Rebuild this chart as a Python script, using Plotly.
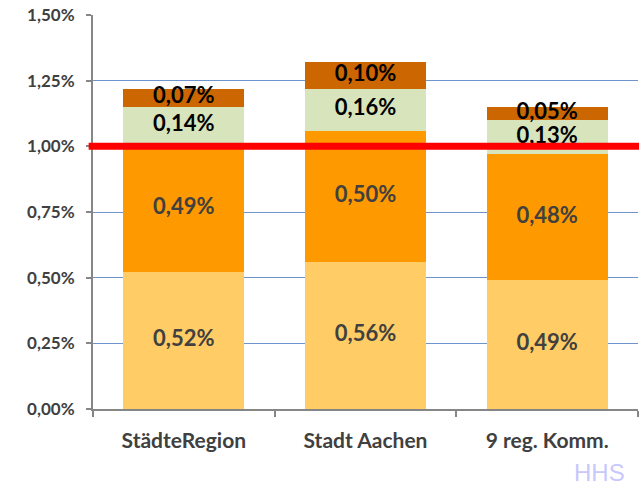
import plotly.graph_objects as go

categories = ["StädteRegion", "Stadt Aachen", "9 reg. Komm."]
seg1 = [0.52, 0.56, 0.49]   # light orange (bottom)
seg2 = [0.49, 0.50, 0.48]   # orange
seg3 = [0.14, 0.16, 0.13]   # light green
seg4 = [0.07, 0.10, 0.05]   # dark orange (top)
reference_level = 1.0
y_ticks = [0, 0.25, 0.5, 0.75, 1.0, 1.25, 1.5]

series = [
    (seg1, "#FFCC66", "#404040"),
    (seg2, "#FF9900", "#404040"),
    (seg3, "#D8E4BC", "#000000"),
    (seg4, "#CC6600", "#000000"),
]

def fmt(v):
    return f"{v:.2f}".replace(".", ",") + "%"

fig = go.Figure()
for vals, col, _ in series:
    fig.add_trace(go.Bar(x=categories, y=vals, marker=dict(color=col, line=dict(width=0)),
                         hoverinfo="skip", showlegend=False))

base = [0.0] * len(categories)
for vals, col, tcol in series:
    mids = [b + v / 2 for b, v in zip(base, vals)]
    fig.add_trace(go.Scatter(x=categories, y=mids, mode="text", text=[fmt(v) for v in vals],
                             textfont=dict(family="Lato", size=22, color=tcol, weight="bold"),
                             hoverinfo="skip", showlegend=False))
    base = [b + v for b, v in zip(base, vals)]

fig.add_shape(type="line", xref="paper", yref="y", x0=-0.008, x1=1.01,
              y0=reference_level, y1=reference_level,
              line=dict(color="#FF0000", width=7), layer="above")

fig.add_annotation(text="HHS", xref="paper", yref="paper", x=0.98, y=-0.16, xanchor="right", yanchor="middle",
                   showarrow=False, font=dict(family="Liberation Sans", size=24, color="#C8C8FC"))

fig.update_layout(
    width=639, height=486,
    margin=dict(l=93, r=1, t=15, b=77),
    barmode="stack", bargap=0.335,
    plot_bgcolor="white", paper_bgcolor="white",
    font=dict(family="Lato"),
)
fig.update_xaxes(
    showgrid=False, showline=True, linecolor="#868686", linewidth=2,
    ticks="outside", ticklen=6, tickcolor="#868686", tickwidth=1.5, tickson="boundaries",
    tickfont=dict(family="Lato", size=21, color="#404040", weight="bold"),
    ticklabelstandoff=12,
)
fig.update_yaxes(
    range=[0, 1.5], tickvals=y_ticks, ticktext=[fmt(v) for v in y_ticks],
    showgrid=True, gridcolor="#6F94CB", gridwidth=1.3, zeroline=False,
    showline=True, linecolor="#868686", linewidth=2,
    ticks="outside", ticklen=5, tickcolor="#868686", tickwidth=1.5,
    tickfont=dict(family="Lato", size=17, color="#404040", weight="bold"),
    ticklabelstandoff=8, ticklabeloverflow="allow",
)

fig.write_html("out.html", config={"displayModeBar": False},
               post_script="document.body.style.margin='0px';")
